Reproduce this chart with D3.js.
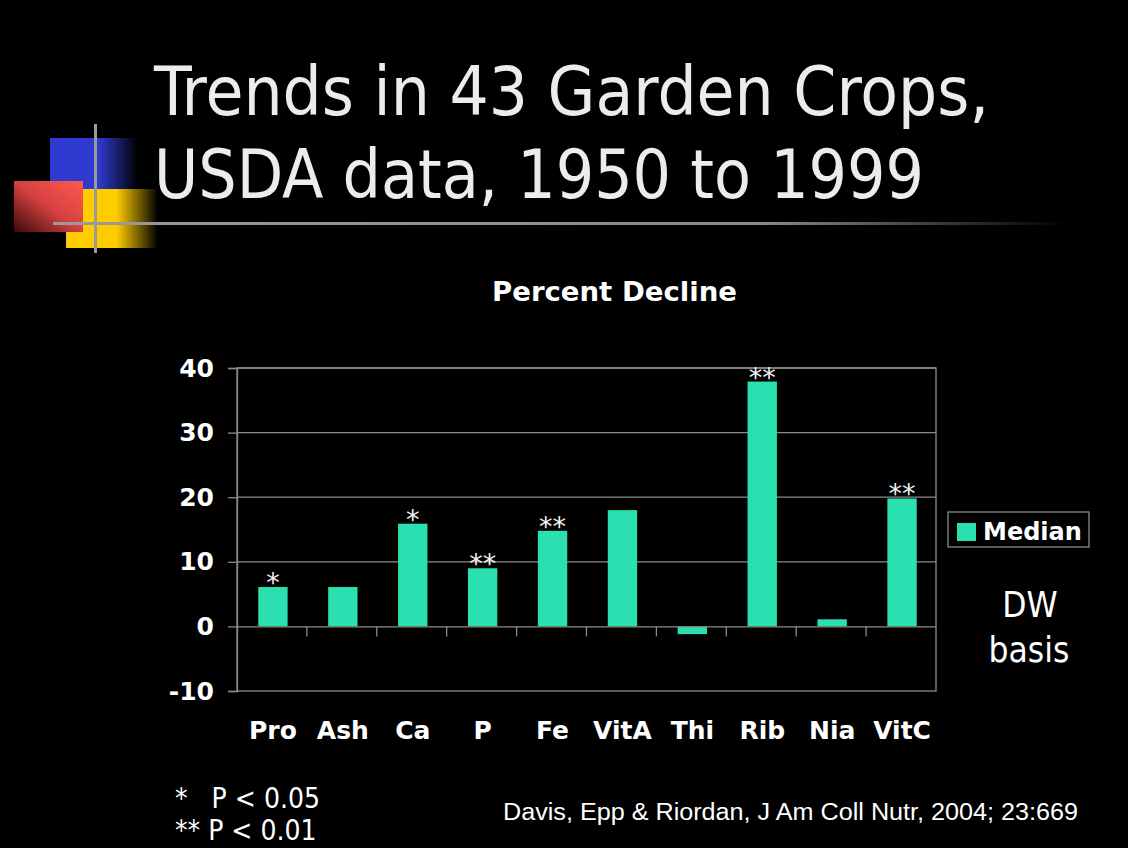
<!DOCTYPE html>
<html>
  <head>
    <meta charset="utf-8">
    <style type="text/css">
      body { margin: 0; background: #000; overflow: hidden; }
    </style>
    <script src="https://d3js.org/d3.v7.min.js"></script>
  </head>
  <body>
    <svg width="1128" height="848"></svg>
    <script>
      // values
      const categories = ['Pro', 'Ash', 'Ca', 'P', 'Fe', 'VitA', 'Thi', 'Rib', 'Nia', 'VitC'];
      const medianDecline = [6.1, 6.1, 15.9, 9.0, 14.8, 18.0, -1.2, 37.9, 1.1, 19.8];
      const significance = ['*', '', '*', '**', '**', '', '', '**', '', '**'];
      const yTicks = [-10, 0, 10, 20, 30, 40];
      const footnotes = ['*   P < 0.05', '** P < 0.01'];

      const data = categories.map((c, i) => ({ name: c, value: medianDecline[i], sig: significance[i] }));

      const svg = d3.select('svg');
      const barColor = '#2ae0b0';
      const gridColor = '#8a8a8a';
      const titleFont = '"DejaVu Sans Condensed", "DejaVu Sans", sans-serif';
      const boldFont = '"DejaVu Sans", Verdana, sans-serif';

      svg.append('rect').attr('width', 1128).attr('height', 848).attr('fill', '#000');

      // ---- slide decoration ----
      const defs = svg.append('defs');
      const fadeRight = (id, color) => {
        const g = defs.append('linearGradient').attr('id', id).attr('x1', 0).attr('x2', 1).attr('y1', 0).attr('y2', 0);
        g.append('stop').attr('offset', '0.55').attr('stop-color', color);
        g.append('stop').attr('offset', '1').attr('stop-color', '#000');
      };
      fadeRight('blueFade', '#2f3bd0');
      fadeRight('yellowFade', '#ffcc00');
      const red = defs.append('linearGradient').attr('id', 'redFade')
        .attr('x1', 1).attr('y1', 0).attr('x2', 0).attr('y2', 1);
      red.append('stop').attr('offset', '0').attr('stop-color', '#ff5a50');
      red.append('stop').attr('offset', '0.5').attr('stop-color', '#d64040');
      red.append('stop').attr('offset', '1').attr('stop-color', '#3a0a0a');
      const rule = defs.append('linearGradient').attr('id', 'ruleFade').attr('x1', 0).attr('x2', 1);
      rule.append('stop').attr('offset', '0').attr('stop-color', '#9a9a9a');
      rule.append('stop').attr('offset', '0.7').attr('stop-color', '#8a8a8a');
      rule.append('stop').attr('offset', '1').attr('stop-color', '#000');

      svg.append('rect').attr('x', 50).attr('y', 138).attr('width', 88).attr('height', 52).attr('fill', 'url(#blueFade)');
      svg.append('rect').attr('x', 66).attr('y', 189).attr('width', 92).attr('height', 59).attr('fill', 'url(#yellowFade)');
      svg.append('rect').attr('x', 14).attr('y', 181).attr('width', 69).attr('height', 51).attr('fill', 'url(#redFade)');
      svg.append('rect').attr('x', 53).attr('y', 222).attr('width', 1015).attr('height', 3).attr('fill', 'url(#ruleFade)');
      svg.append('rect').attr('x', 94).attr('y', 124).attr('width', 3).attr('height', 129).attr('fill', '#9a9a9a');

      // ---- title ----
      const title = svg.append('g').attr('fill', '#ececec')
        .style('font-family', titleFont).style('font-size', '68px');
      title.append('text').attr('x', 154).attr('y', 115)
        .attr('textLength', 835).attr('lengthAdjust', 'spacingAndGlyphs')
        .text('Trends in 43 Garden Crops,');
      title.append('text').attr('x', 154).attr('y', 198)
        .attr('textLength', 770).attr('lengthAdjust', 'spacingAndGlyphs')
        .text('USDA data, 1950 to 1999');

      // ---- chart ----
      const plot = { left: 237, right: 936, top: 368, bottom: 691 };

      const x = d3.scaleBand().domain(categories).range([plot.left, plot.right]).padding(0);
      const y = d3.scaleLinear().domain([-10, 40]).range([plot.bottom, plot.top]);
      const barW = x.bandwidth() * 0.42;

      svg.append('text')
        .attr('x', 492).attr('y', 301)
        .attr('textLength', 245).attr('lengthAdjust', 'spacingAndGlyphs')
        .attr('fill', '#fff')
        .style('font-family', boldFont).style('font-weight', 'bold').style('font-size', '26px')
        .text('Percent Decline');

      // gridlines
      svg.append('g').selectAll('line')
        .data(yTicks.filter(t => t > 0))
        .join('line')
          .attr('x1', plot.left).attr('x2', plot.right)
          .attr('y1', d => y(d)).attr('y2', d => y(d))
          .attr('stroke', gridColor).attr('stroke-width', 1.3);

      // plot border
      svg.append('rect')
        .attr('x', plot.left).attr('y', plot.top)
        .attr('width', plot.right - plot.left).attr('height', plot.bottom - plot.top)
        .attr('fill', 'none').attr('stroke', gridColor).attr('stroke-width', 1.3);

      // y axis
      const yAxis = svg.append('g')
        .attr('transform', `translate(${plot.left},0)`)
        .call(d3.axisLeft(y).tickValues(yTicks).tickSize(9).tickPadding(14).tickFormat(d => String(d)));
      yAxis.select('.domain').attr('stroke', gridColor).attr('stroke-width', 1.3);
      yAxis.selectAll('.tick line').attr('stroke', gridColor).attr('stroke-width', 1.3);
      yAxis.selectAll('.tick text')
        .attr('fill', '#fff')
        .style('font-family', boldFont).style('font-weight', 'bold').style('font-size', '25px');

      // bars
      svg.append('g').selectAll('rect')
        .data(data)
        .join('rect')
          .attr('x', d => x(d.name) + (x.bandwidth() - barW) / 2 + 1)
          .attr('width', barW)
          .attr('y', d => y(Math.max(0, d.value)))
          .attr('height', d => Math.abs(y(d.value) - y(0)))
          .attr('fill', barColor);

      // zero line with category ticks
      const xAxis = svg.append('g')
        .attr('transform', `translate(0,${y(0)})`)
        .call(d3.axisBottom(x).tickSize(0).tickFormat(''));
      xAxis.select('.domain').attr('stroke', gridColor).attr('stroke-width', 1.3);
      svg.append('g').selectAll('line')
        .data(categories.slice(1))
        .join('line')
          .attr('x1', d => x(d)).attr('x2', d => x(d))
          .attr('y1', y(0)).attr('y2', y(0) + 10)
          .attr('stroke', gridColor).attr('stroke-width', 1.3);

      // significance markers
      svg.append('g').selectAll('text')
        .data(data.filter(d => d.sig))
        .join('text')
          .attr('x', d => x(d.name) + x.bandwidth() / 2 + 1)
          .attr('y', d => y(d.value) + 5)
          .attr('text-anchor', 'middle')
          .attr('fill', '#f2f2f2')
          .style('font-family', boldFont).style('font-size', '27px')
          .text(d => d.sig);

      // category labels
      svg.append('g').selectAll('text')
        .data(categories)
        .join('text')
          .attr('x', d => x(d) + x.bandwidth() / 2 + 1)
          .attr('y', 739)
          .attr('text-anchor', 'middle')
          .attr('fill', '#fff')
          .style('font-family', boldFont).style('font-weight', 'bold').style('font-size', '25px')
          .text(d => d);

      // legend
      svg.append('rect').attr('x', 948).attr('y', 512).attr('width', 141).attr('height', 35)
        .attr('fill', 'none').attr('stroke', gridColor).attr('stroke-width', 1.3);
      svg.append('rect').attr('x', 957).attr('y', 523).attr('width', 19).attr('height', 18).attr('fill', barColor);
      svg.append('text').attr('x', 983).attr('y', 540)
        .attr('fill', '#fff')
        .style('font-family', boldFont).style('font-weight', 'bold').style('font-size', '24px')
        .text('Median');

      const dw = svg.append('g').attr('fill', '#fff').attr('text-anchor', 'middle')
        .style('font-family', titleFont).style('font-size', '35px');
      dw.append('text').attr('x', 1030).attr('y', 617).text('DW');
      dw.append('text').attr('x', 1029).attr('y', 662).text('basis');

      // footnotes
      svg.append('g').attr('fill', '#fff')
        .style('font-family', titleFont).style('font-size', '28px')
        .selectAll('text')
        .data(footnotes)
        .join('text')
          .attr('x', 175)
          .attr('y', (d, i) => 808 + i * 32)
          .style('white-space', 'pre')
          .text(d => d);

      svg.append('text').attr('x', 503).attr('y', 820)
        .attr('textLength', 575).attr('lengthAdjust', 'spacingAndGlyphs')
        .attr('fill', '#fff')
        .style('font-family', '"Liberation Sans", Arial, sans-serif').style('font-size', '23px')
        .text('Davis, Epp & Riordan, J Am Coll Nutr, 2004; 23:669');
    </script>
  </body>
</html>
